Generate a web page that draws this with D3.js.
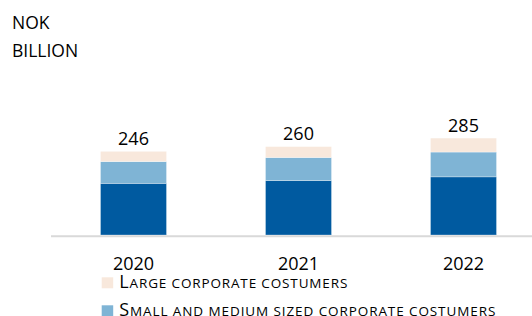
<!DOCTYPE html>
<html><head><meta charset="utf-8">
<script src="https://cdn.jsdelivr.net/npm/d3@7"></script>
<style>
html,body{margin:0;padding:0;background:#fff;}
svg{display:block;font-family:"Open Sans",sans-serif;}
</style></head>
<body><svg id="c" width="532" height="316"></svg>
<script>
const years = ["2020","2021","2022"];
const other = [152, 160, 171];
const smallMedium = [64, 68, 73];
const large = [30, 32, 41];
const totals = [246, 260, 285];
const legendLabels = ["Large corporate costumers","Small and medium sized corporate costumers"];
const colors = ["#005aa0","#7fb4d5","#f8e8dc"];

const svg = d3.select("#c");
const W = 532, H = 316;
const x = d3.scaleBand().domain(years).range([51, 546]).paddingInner(0.6).paddingOuter(0.3);
const y = d3.scaleLinear().domain([0, 300]).range([235, 133]);

const rows = years.map((yr,i)=>({year:yr, other:other[i], sm:smallMedium[i], large:large[i], total:totals[i]}));
const stack = d3.stack().keys(["other","sm","large"])(rows);

svg.append("g").selectAll("g").data(stack).join("g")
  .attr("fill",(d,i)=>colors[i])
  .selectAll("rect").data(d=>d).join("rect")
  .attr("x",d=>x(d.data.year))
  .attr("width",x.bandwidth())
  .attr("y",d=>y(d[1]))
  .attr("height",d=>y(d[0])-y(d[1]))
  .attr("stroke","#ffffff").attr("stroke-opacity",0.5).attr("stroke-width",0.6);

// axis line
svg.append("line").attr("x1",51).attr("x2",W).attr("y1",236.3).attr("y2",236.3)
  .attr("stroke","#d9d9d9").attr("stroke-width",2);

// totals
svg.append("g").selectAll("text").data(rows).join("text")
  .attr("x",d=>x(d.year)+x.bandwidth()/2)
  .attr("y",d=>y(d.total)-6.5)
  .attr("text-anchor","middle").attr("font-size",18).attr("fill","#000")
  .text(d=>d.total);

// x labels
const xa = svg.append("g").attr("transform","translate(0,236)")
  .call(d3.axisBottom(x).tickSize(0).tickPadding(21));
xa.select(".domain").remove();
xa.selectAll("text").attr("font-size",18).attr("fill","#000").attr("font-family","Open Sans");

// unit title
svg.append("text").attr("x",12).attr("y",29).attr("font-size",17.5).attr("fill","#000").text("NOK");
svg.append("text").attr("x",12).attr("y",56.5).attr("font-size",17.5).attr("fill","#000").text("BILLION");

// legend
const legendWidths = [228, 376];
const lg = svg.append("g").selectAll("g").data(legendLabels).join("g")
  .attr("transform",(d,i)=>`translate(101.7,${277.3 + i*28})`);
lg.append("rect").attr("width",11.5).attr("height",11).attr("fill",(d,i)=>colors[2-i]);
const lt = lg.append("text").attr("x",17.6).attr("y",11).attr("fill","#000")
  .attr("textLength",(d,i)=>legendWidths[i]).attr("lengthAdjust","spacing");
lt.append("tspan").attr("font-size",18).text(d=>d[0].toUpperCase());
lt.append("tspan").attr("font-size",13.5).text(d=>d.slice(1).toUpperCase());
</script></body></html>
